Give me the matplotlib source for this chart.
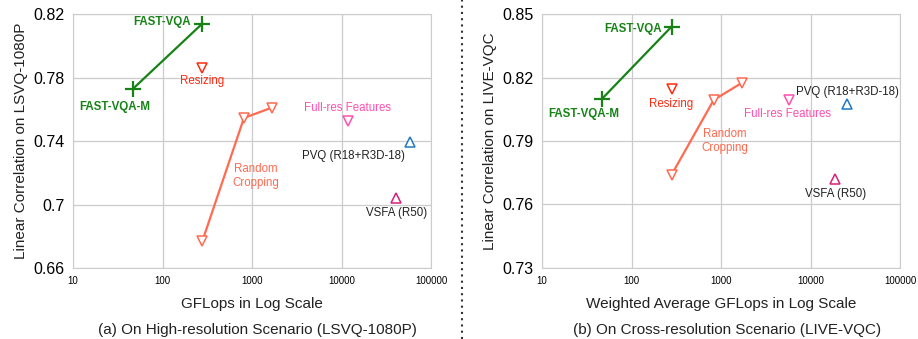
import numpy as np
import matplotlib.pyplot as plt
import matplotlib.lines as mlines

plt.rcParams['font.family'] = ['Liberation Sans', 'DejaVu Sans']

# (a) LSVQ-1080P
a_fast_x = [47, 279]
a_fast_y = [0.773, 0.814]
a_resize = (279, 0.786)
a_crop_x = [279, 813, 1664]
a_crop_y = [0.677, 0.7545, 0.761]
a_fullres = (11800, 0.7526)
a_pvq = (59000, 0.7394)
a_vsfa = (40800, 0.704)

# (b) LIVE-VQC
b_fast_x = [47, 280]
b_fast_y = [0.810, 0.844]
b_resize = (280, 0.8146)
b_crop_x = [280, 830, 1700]
b_crop_y = [0.774, 0.8094, 0.8174]
b_fullres = (5770, 0.8094)
b_pvq = (25700, 0.8075)
b_vsfa = (19000, 0.772)

xticks = [10, 100, 1000, 10000, 100000]
a_yticks = [0.66, 0.7, 0.74, 0.78, 0.82]
b_yticks = [0.73, 0.76, 0.79, 0.82, 0.85]

GREEN = '#178317'
RED = '#ff2a10'
SALMON = '#ff6a50'
PINK = '#ff4fb0'
BLUE = '#1f78c1'
MAG = '#d61f7a'


def draw(ax, fx, fy, rs, cx, cy, fr, pvq, vsfa, yt, labels):
    ax.set_xscale('log')
    ax.set_xlim(10, 100000)
    ax.set_ylim(yt[0], yt[-1])
    ax.set_xticks(xticks)
    ax.set_xticklabels([str(t) for t in xticks], fontsize=7)
    ax.set_yticks(yt)
    ax.set_yticklabels([('%g' % t) for t in yt], fontsize=11.5)
    ax.minorticks_off()
    ax.tick_params(length=0, pad=6)
    ax.grid(True, color='#cccccc', linewidth=0.9)
    for s in ax.spines.values():
        s.set_color('#cccccc')
    ax.set_axisbelow(True)

    ax.plot(fx, fy, color=GREEN, lw=1.6, marker='+', ms=12, mew=1.6)
    ax.plot(cx, cy, color=SALMON, lw=1.6, marker='v', ms=7, mfc='white', mew=1.1)
    ax.plot(*rs, ls='', marker='v', ms=7, mfc='white', mec=RED, mew=1.1)
    ax.plot(*fr, ls='', marker='v', ms=7, mfc='white', mec=PINK, mew=1.1)
    ax.plot(*pvq, ls='', marker='^', ms=7, mfc='white', mec=BLUE, mew=1.1)
    ax.plot(*vsfa, ls='', marker='^', ms=7, mfc='white', mec=MAG, mew=1.1)

    fs = 8.3
    for txt, x, y, col, bold, ha in labels:
        ax.text(x, y, txt, color=col, fontsize=fs, ha=ha, va='center',
                fontweight='bold' if bold else 'normal', linespacing=1.15)


fig = plt.figure(figsize=(9.18, 3.39), dpi=100)
ax1 = fig.add_axes([73 / 918, 71 / 339, 358 / 918, 254 / 339])
ax2 = fig.add_axes([542 / 918, 71 / 339, 358 / 918, 254 / 339])

draw(ax1, a_fast_x, a_fast_y, a_resize, a_crop_x, a_crop_y, a_fullres, a_pvq, a_vsfa, a_yticks, [
    ('FAST-VQA', 208, 0.8147, GREEN, True, 'right'),
    ('FAST-VQA-M', 29, 0.7614, GREEN, True, 'center'),
    ('Resizing', 279, 0.7778, RED, False, 'center'),
    ('Full-res Features', 11800, 0.7608, PINK, False, 'center'),
    ('PVQ (R18+R3D-18)', 13500, 0.7306, '#222222', False, 'center'),
    ('Random\nCropping', 1100, 0.718, SALMON, False, 'center'),
    ('VSFA (R50)', 40800, 0.6947, '#222222', False, 'center'),
])
draw(ax2, b_fast_x, b_fast_y, b_resize, b_crop_x, b_crop_y, b_fullres, b_pvq, b_vsfa, b_yticks, [
    ('FAST-VQA', 219, 0.8429, GREEN, True, 'right'),
    ('FAST-VQA-M', 29, 0.8028, GREEN, True, 'center'),
    ('Resizing', 280, 0.8075, RED, False, 'center'),
    ('Full-res Features', 5600, 0.8028, PINK, False, 'center'),
    ('PVQ (R18+R3D-18)', 25700, 0.8132, '#222222', False, 'center'),
    ('Random\nCropping', 1100, 0.790, SALMON, False, 'center'),
    ('VSFA (R50)', 19000, 0.765, '#222222', False, 'center'),
])

ax1.set_xlabel('GFLops in Log Scale', fontsize=11, color='#222222', labelpad=8)
ax1.set_ylabel('Linear Correlation on LSVQ-1080P', fontsize=11, color='#222222', labelpad=4)
ax2.set_xlabel('Weighted Average GFLops in Log Scale', fontsize=11, color='#222222', labelpad=8)
ax2.set_ylabel('Linear Correlation on LIVE-VQC', fontsize=11, color='#222222', labelpad=4)

fig.text(257 / 918, 1 - 330 / 339, '(a) On High-resolution Scenario (LSVQ-1080P)',
         fontsize=11, ha='center', va='center', color='#222222')
fig.text(727 / 918, 1 - 330 / 339, '(b) On Cross-resolution Scenario (LIVE-VQC)',
         fontsize=11, ha='center', va='center', color='#222222')

fig.add_artist(mlines.Line2D([462 / 918, 462 / 918], [0.0, 1.0], transform=fig.transFigure,
                             color='#333333', lw=1.5, ls=(0, (1, 2))))

fig.savefig('out.png', dpi=100)
